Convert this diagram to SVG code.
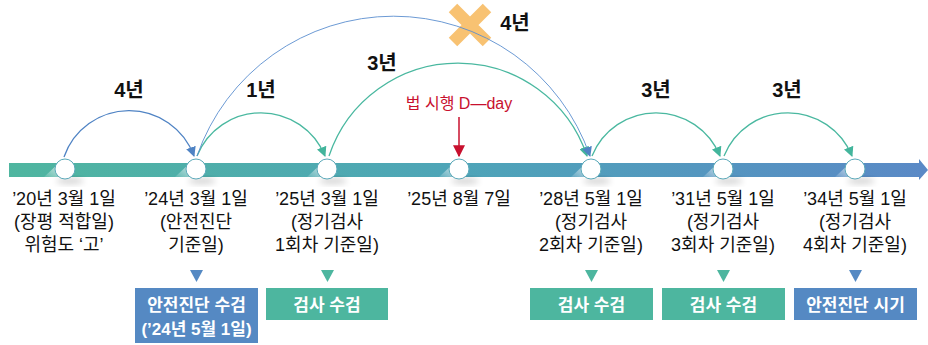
<svg xmlns="http://www.w3.org/2000/svg" width="928" height="345" viewBox="0 0 928 345">
<defs>
<linearGradient id="barG" x1="0" y1="0" x2="928" y2="0" gradientUnits="userSpaceOnUse">
<stop offset="0" stop-color="#4fb69f"/>
<stop offset="0.5" stop-color="#4ea4b8"/>
<stop offset="1" stop-color="#5a89c6"/>
</linearGradient>
<linearGradient id="shG" x1="0" y1="1" x2="1" y2="0">
<stop offset="0" stop-color="#ffffff" stop-opacity="0.1"/>
<stop offset="1" stop-color="#e8eef0" stop-opacity="0.9"/>
</linearGradient>
<filter id="blur" x="-50%" y="-50%" width="200%" height="200%"><feGaussianBlur stdDeviation="3"/></filter>
<marker id="ahB" viewBox="0 0 10 10" refX="9" refY="5" markerWidth="10" markerHeight="10" markerUnits="userSpaceOnUse" orient="auto"><path d="M0,0 L10,5 L0,10 Z" fill="#4f83c4"/></marker>
<marker id="ahT" viewBox="0 0 10 10" refX="9" refY="5" markerWidth="10" markerHeight="10" markerUnits="userSpaceOnUse" orient="auto"><path d="M0,0 L10,5 L0,10 Z" fill="#43b59c"/></marker>
<marker id="ahR" viewBox="0 0 10 10" refX="9" refY="5" markerWidth="12" markerHeight="12" markerUnits="userSpaceOnUse" orient="auto"><path d="M0,0 L10,5 L0,10 Z" fill="#c8102e"/></marker>
</defs>
<style>
.lbl{font-family:"Liberation Sans","Noto Sans CJK KR",sans-serif;font-size:18px;fill:#111;text-anchor:middle}
.yr{font-family:"Liberation Sans","Noto Sans CJK KR",sans-serif;font-size:20px;font-weight:bold;fill:#111;text-anchor:middle}
.bt{font-family:"Liberation Sans","Noto Sans CJK KR",sans-serif;font-size:17px;font-weight:bold;fill:#fff;text-anchor:middle}
.red{font-family:"Liberation Sans","Noto Sans CJK KR",sans-serif;font-size:16px;fill:#c8102e;text-anchor:middle}
.arcT{fill:none;stroke:#4ab8a0;stroke-width:1.3;marker-end:url(#ahT)}
.arcB{fill:none;stroke:#4f83c4;stroke-width:1.3;marker-end:url(#ahB)}
.arcBt{fill:none;stroke:#5b8fcf;stroke-width:0.9;marker-end:url(#ahB)}
.node{fill:#fff;stroke:#5aa9b9;stroke-width:1}
.sh{fill:url(#shG)}
.shd{fill:#000;opacity:0.18;filter:url(#blur)}
.boxB{fill:#5589c3}
.boxT{fill:#4db69f}
.triB{fill:#5589c3}
.triT{fill:#4db69f}
</style>

<g id="timeline">
<rect x="9" y="163" width="912" height="14" fill="url(#barG)"/>
<path d="M919,159 L928,170 L919,180 Z" fill="#5a89c6"/>
</g>

<g id="xmark">
<path d="M453,8 L487,42 M487,8 L453,42" stroke="#f8c272" stroke-width="12"/>
</g>

<g id="connectors">
<path class="arcB" d="M64,157 A69,69 0 0 1 194,156"/>
<path class="arcT" d="M197,156 A69,69 0 0 1 325,156"/>
<path class="arcT" d="M329,156 A136,136 0 0 1 587,156"/>
<path class="arcBt" d="M197,156 A208,208 0 0 1 590,156"/>
<path class="arcT" d="M592,156 A69,69 0 0 1 720,156"/>
<path class="arcT" d="M724,156 A69,69 0 0 1 852,156"/>
<path d="M459,117 L459,156" stroke="#c8102e" stroke-width="1.5" marker-end="url(#ahR)"/>
</g>

<g id="yearLabels">
<text class="yr" x="129" y="97">4년</text>
<text class="yr" x="261" y="97">1년</text>
<text class="yr" x="382" y="70">3년</text>
<text class="yr" x="515" y="30">4년</text>
<text class="yr" x="656" y="97">3년</text>
<text class="yr" x="787" y="97">3년</text>
<text class="red" x="459" y="109">법 시행 D—day</text>
</g>

<g id="n1">
<path class="sh" d="M44,177 L59,163 L64,163 L64,177 Z"/>
<ellipse class="shd" cx="70" cy="181" rx="14" ry="3"/>
<circle class="node" cx="65" cy="169" r="10"/>
<text class="lbl" x="64" y="205">’20년 3월 1일</text>
<text class="lbl" x="64" y="228">(장평 적합일)</text>
<text class="lbl" x="64" y="251">위험도 ‘고’</text>
</g>

<g id="n2">
<path class="sh" d="M175,177 L190,163 L196,163 L196,177 Z"/>
<ellipse class="shd" cx="202" cy="181" rx="14" ry="3"/>
<circle class="node" cx="196" cy="169" r="10"/>
<text class="lbl" x="196" y="205">’24년 3월 1일</text>
<text class="lbl" x="196" y="228">(안전진단</text>
<text class="lbl" x="196" y="251">기준일)</text>
<path class="triB" d="M190,270 L203,270 L196.5,282 Z"/>
<rect class="boxB" x="135" y="288" width="123" height="55"/>
<text class="bt" x="196.5" y="311">안전진단 수검</text>
<text class="bt" x="196.5" y="335">(’24년 5월 1일)</text>
</g>

<g id="n3">
<path class="sh" d="M307,177 L322,163 L327,163 L327,177 Z"/>
<ellipse class="shd" cx="333" cy="181" rx="14" ry="3"/>
<circle class="node" cx="327" cy="169" r="10"/>
<text class="lbl" x="327" y="205">’25년 3월 1일</text>
<text class="lbl" x="327" y="228">(정기검사</text>
<text class="lbl" x="327" y="251">1회차 기준일)</text>
<path class="triT" d="M321,270 L334,270 L327.5,282 Z"/>
<rect class="boxT" x="266" y="288" width="122" height="32"/>
<text class="bt" x="327" y="311">검사 수검</text>
</g>

<g id="n4">
<path class="sh" d="M439,177 L454,163 L459,163 L459,177 Z"/>
<ellipse class="shd" cx="465" cy="181" rx="14" ry="3"/>
<circle class="node" cx="459" cy="169" r="10"/>
<text class="lbl" x="459" y="205">’25년 8월 7일</text>
</g>

<g id="n5">
<path class="sh" d="M571,177 L586,163 L591,163 L591,177 Z"/>
<ellipse class="shd" cx="597" cy="181" rx="14" ry="3"/>
<circle class="node" cx="591" cy="169" r="10"/>
<text class="lbl" x="591" y="205">’28년 5월 1일</text>
<text class="lbl" x="591" y="228">(정기검사</text>
<text class="lbl" x="591" y="251">2회차 기준일)</text>
<path class="triT" d="M585,270 L598,270 L591.5,282 Z"/>
<rect class="boxT" x="530" y="288" width="123" height="32"/>
<text class="bt" x="591.5" y="311">검사 수검</text>
</g>

<g id="n6">
<path class="sh" d="M703,177 L718,163 L723,163 L723,177 Z"/>
<ellipse class="shd" cx="729" cy="181" rx="14" ry="3"/>
<circle class="node" cx="723" cy="169" r="10"/>
<text class="lbl" x="723" y="205">’31년 5월 1일</text>
<text class="lbl" x="723" y="228">(정기검사</text>
<text class="lbl" x="723" y="251">3회차 기준일)</text>
<path class="triT" d="M717,270 L730,270 L723.5,282 Z"/>
<rect class="boxT" x="662" y="288" width="123" height="32"/>
<text class="bt" x="723.5" y="311">검사 수검</text>
</g>

<g id="n7">
<path class="sh" d="M835,177 L850,163 L855,163 L855,177 Z"/>
<ellipse class="shd" cx="861" cy="181" rx="14" ry="3"/>
<circle class="node" cx="855" cy="169" r="10"/>
<text class="lbl" x="855" y="205">’34년 5월 1일</text>
<text class="lbl" x="855" y="228">(정기검사</text>
<text class="lbl" x="855" y="251">4회차 기준일)</text>
<path class="triB" d="M849,270 L862,270 L855.5,282 Z"/>
<rect class="boxB" x="794" y="288" width="123" height="32"/>
<text class="bt" x="855.5" y="311">안전진단 시기</text>
</g>
</svg>
